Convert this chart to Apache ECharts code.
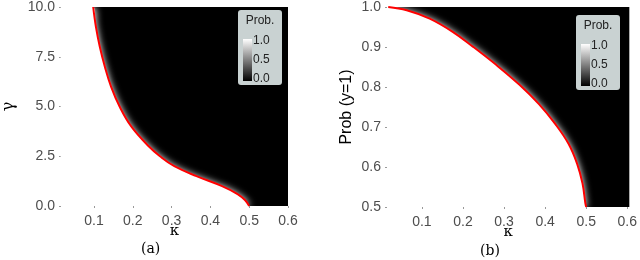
<!DOCTYPE html>
<html><head><meta charset="utf-8">
<script src="https://cdn.jsdelivr.net/npm/echarts@6/dist/echarts.min.js"></script>
<style>html,body{margin:0;padding:0;background:#fff}#c{width:640px;height:260px}</style>
</head><body><div id="c"></div>
<script>
// Panel (a): boundary curve kappa vs gamma (first point pads the white region to the panel's left edge)
const kappaA = [0.015, 0.098, 0.105, 0.115, 0.128, 0.144, 0.166, 0.196, 0.241, 0.270, 0.307, 0.364, 0.430, 0.470, 0.489, 0.500];
const gammaA = [10, 10, 9, 8, 7, 6, 5, 4, 3, 2.5, 2, 1.5, 1.0, 0.6, 0.3, 0];
// Panel (b): boundary curve kappa vs Prob(y=1)
const kappaB = [0.015, 0.018, 0.063, 0.119, 0.175, 0.224, 0.280, 0.337, 0.385, 0.425, 0.457, 0.478, 0.491, 0.498, 0.500];
const probB = [1.0, 1.0, 0.992, 0.971, 0.938, 0.901, 0.856, 0.806, 0.757, 0.707, 0.658, 0.608, 0.559, 0.509, 0.5];
// tick labels
const kappaTicks = [0.1, 0.2, 0.3, 0.4, 0.5, 0.6];
const legendTicks = ['1.0', '0.5', '0.0'];
const legendTitle = 'Prob.';
const captions = ['(a)', '(b)'];

const pairs = (xs, ys) => xs.map((x, i) => [x, ys[i]]);
const sans = 'Liberation Sans, Arial, sans-serif';
const serif = 'DejaVu Serif, Liberation Serif, serif';

function xAxis(gi, max) {
  return {
    type: 'value', gridIndex: gi, min: 0.015, max: max,
    name: 'κ', nameLocation: 'middle', nameGap: 18, nameMoveOverlap: false,
    nameTextStyle: { fontFamily: serif, fontSize: 15, color: '#000' },
    axisLine: { show: false },
    axisTick: { show: true, length: 2, customValues: kappaTicks, lineStyle: { color: '#999' } },
    axisLabel: { customValues: kappaTicks, margin: 8, fontFamily: sans, fontSize: 14, color: '#4d4d4d', formatter: v => v.toFixed(1) },
    splitLine: { show: false }
  };
}
function yAxis(gi, min, max, interval, name, nameGap, nameFont) {
  return {
    type: 'value', gridIndex: gi, min: min, max: max, interval: interval,
    name: name, nameLocation: 'middle', nameRotate: 90, nameGap: nameGap,
    nameTextStyle: nameFont,
    axisLine: { show: false },
    axisTick: { show: true, length: 2, lineStyle: { color: '#999' } },
    axisLabel: { margin: 6, fontFamily: sans, fontSize: 14, color: '#4d4d4d', formatter: v => v.toFixed(1) },
    splitLine: { show: false }
  };
}
function areaSeries(ai, data) {
  return {
    type: 'line', xAxisIndex: ai, yAxisIndex: ai, data: data, showSymbol: false, smooth: 0.4,
    lineStyle: { width: 0, color: '#fff' }, clip: true, silent: true,
    areaStyle: { origin: 'start', color: '#fff', opacity: 1, shadowBlur: 7, shadowColor: 'rgba(255,255,255,0.95)', shadowOffsetX: 1 },
    z: 2
  };
}
function curveSeries(ai, data) {
  return {
    type: 'line', xAxisIndex: ai, yAxisIndex: ai, data: data, showSymbol: false, smooth: 0.4,
    lineStyle: { width: 2, color: '#f00' }, clip: true, silent: true, z: 3
  };
}
function legendBox(x, y) {
  return {
    type: 'group', left: x, top: y, z: 100,
    children: [
      { type: 'rect', shape: { x: 0, y: 0, width: 44, height: 75, r: 3 }, style: { fill: '#c9d2d2' } },
      { type: 'text', x: 22, y: 11, style: { text: legendTitle, font: '12px ' + sans, fill: '#222', align: 'center', verticalAlign: 'middle' } },
      { type: 'rect', shape: { x: 5, y: 29, width: 9, height: 42 },
        style: { fill: new echarts.graphic.LinearGradient(0, 0, 0, 1, [{ offset: 0, color: '#fff' }, { offset: 0.5, color: '#808080' }, { offset: 1, color: '#000' }]) } },
      { type: 'text', x: 15, y: 31, style: { text: legendTicks[0], font: '12px ' + sans, fill: '#222', align: 'left', verticalAlign: 'middle' } },
      { type: 'text', x: 15, y: 50, style: { text: legendTicks[1], font: '12px ' + sans, fill: '#222', align: 'left', verticalAlign: 'middle' } },
      { type: 'text', x: 15, y: 69, style: { text: legendTicks[2], font: '12px ' + sans, fill: '#222', align: 'left', verticalAlign: 'middle' } }
    ]
  };
}

const chart = echarts.init(document.getElementById('c'), null, { renderer: 'canvas' });
chart.setOption({
  animation: false,
  backgroundColor: '#fff',
  grid: [
    { left: 54, top: 7, width: 234, height: 199, show: true, backgroundColor: '#000', borderWidth: 0 },
    { left: 387, top: 5, width: 244, height: 202, show: true, backgroundColor: '#000', borderWidth: 0 }
  ],
  xAxis: [xAxis(0, 0.6), xAxis(1, 0.605)],
  yAxis: [
    yAxis(0, 0, 10, 2.5, 'γ', 44, { fontFamily: serif, fontSize: 16, color: '#000' }),
    yAxis(1, 0.5, 1.0, 0.1, 'Prob (y=1)', 32, { fontFamily: sans, fontSize: 16, color: '#000' })
  ],
  series: [
    areaSeries(0, pairs(kappaA, gammaA)),
    curveSeries(0, pairs(kappaA.slice(1), gammaA.slice(1))),
    areaSeries(1, pairs(kappaB, probB)),
    curveSeries(1, pairs(kappaB.slice(1), probB.slice(1)))
  ],
  graphic: [
    legendBox(238, 10),
    legendBox(576, 15),
    { type: 'text', left: 141, top: 242, style: { text: captions[0], font: '14px ' + serif, fill: '#000' } },
    { type: 'text', left: 480, top: 244, style: { text: captions[1], font: '14px ' + serif, fill: '#000' } }
  ]
});
</script></body></html>
